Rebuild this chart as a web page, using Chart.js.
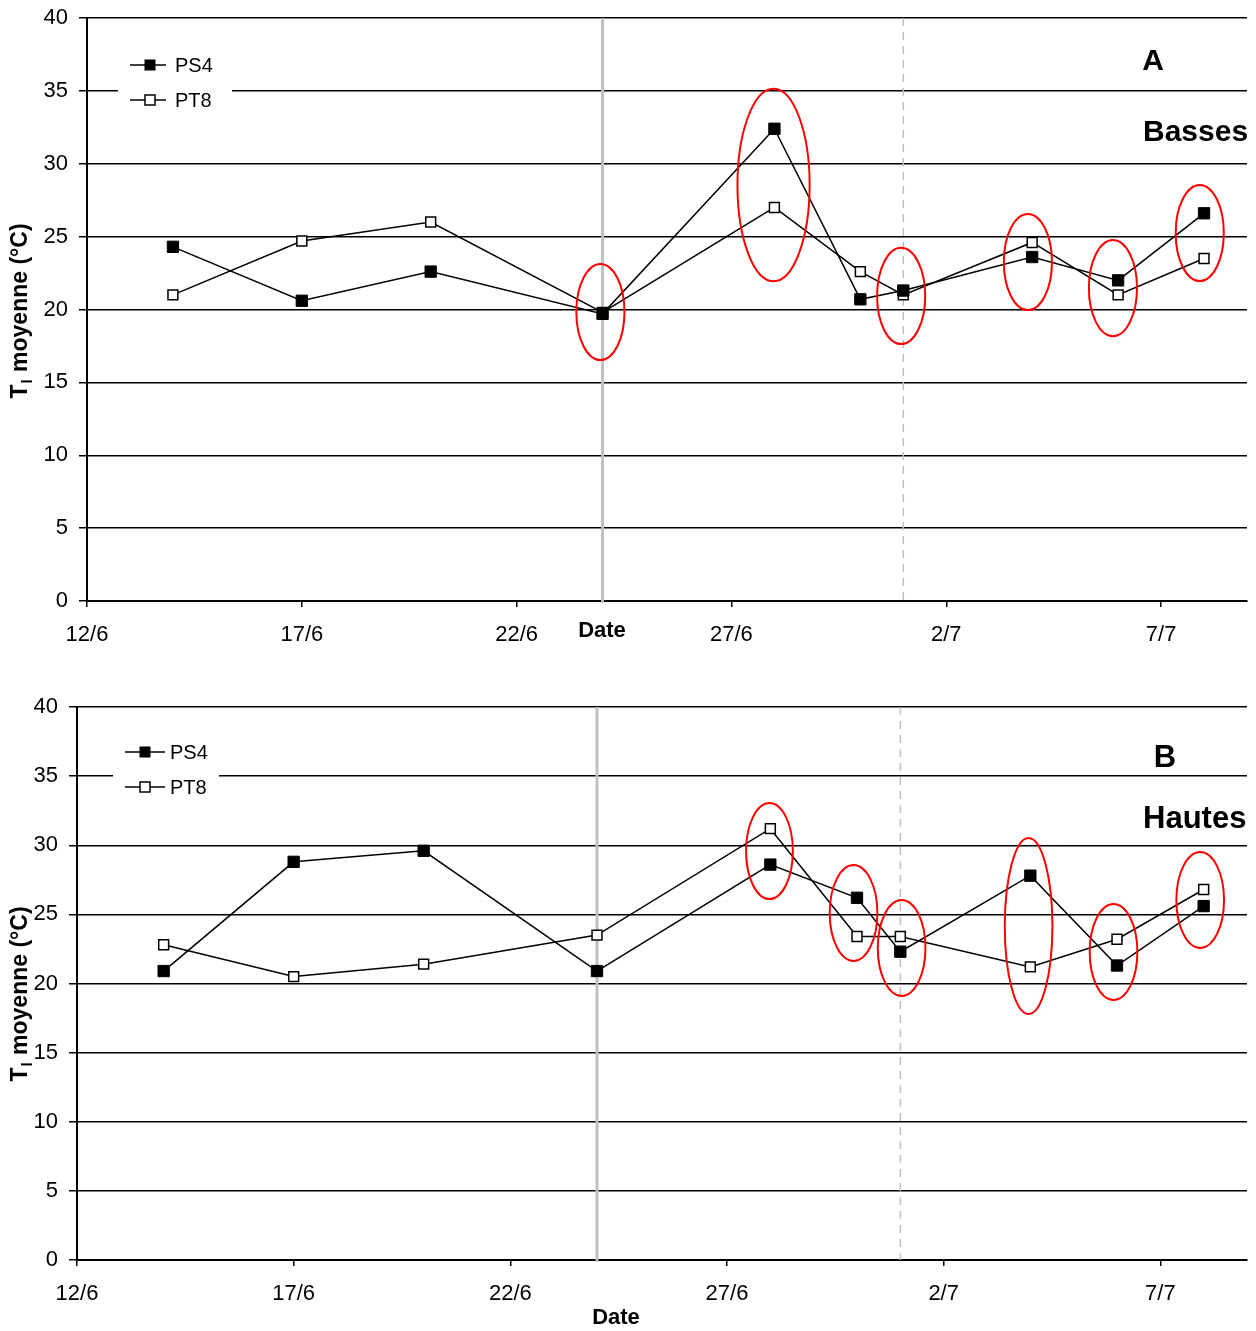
<!DOCTYPE html>
<html>
<head>
<meta charset="utf-8">
<script src="https://cdn.jsdelivr.net/npm/chart.js@4.4.1/dist/chart.umd.min.js"></script>
<style>
  body { margin: 0; background: #fff; }
  .box { position: absolute; left: 0; width: 1256px; }
</style>
</head>
<body>
<div class="box" style="top:0px;height:660px"><canvas id="chartA" width="1256" height="660"></canvas></div>
<div class="box" style="top:660px;height:671px"><canvas id="chartB" width="1256" height="671"></canvas></div>
<script>
// dates of measurement and axis ticks
var dates = ['14/6', '17/6', '20/6', '24/6', '28/6', '30/6', '1/7', '4/7', '6/7', '8/7']
var tickLabels = ['12/6', '17/6', '22/6', '27/6', '2/7', '7/7']
var yTicks = [0, 5, 10, 15, 20, 25, 30, 35, 40]

// A - Basses
var ps4Basses = [24.3, 20.6, 22.6, 19.7, 32.4, 20.7, 21.3, 23.6, 22.0, 26.6]
var pt8Basses = [21.0, 24.7, 26.0, 19.8, 27.0, 22.6, 21.0, 24.6, 21.0, 23.5]
// B - Hautes
var ps4Hautes = [20.9, 28.8, 29.6, 20.9, 28.6, 26.2, 22.3, 27.8, 21.3, 25.6]
var pt8Hautes = [22.8, 20.5, 21.4, 23.5, 31.2, 23.4, 23.4, 21.2, 23.2, 26.8]

// red circled zones (day offset from 12/6, value, half width in days, half height in °C)
var ellDayA = [11.95, 15.98, 18.95, 21.9, 23.88, 25.9]
var ellValA = [19.83, 28.54, 20.93, 23.26, 21.47, 25.25]
var ellRxA = [0.56, 0.84, 0.56, 0.56, 0.56, 0.56]
var ellRyA = [3.3, 6.6, 3.3, 3.3, 3.3, 3.3]

var ellDayB = [15.98, 17.92, 19.03, 21.96, 23.92, 25.92]
var ellValB = [29.58, 25.1, 22.57, 24.16, 22.28, 26.04]
var ellRxB = [0.54, 0.55, 0.55, 0.55, 0.55, 0.55]
var ellRyB = [3.47, 3.47, 3.47, 6.37, 3.47, 3.47]

// vertical reference lines
var solidLineDate = '24/6'
var dashedLineDate = '1/7'

function dayOf(s) {
    var p = s.split('/')
    var d = +p[0], m = +p[1]
    return m === 6 ? d - 12 : d + 18
}

function points(vals) {
    return dates.map(function(d, i) { return { x: dayOf(d), y: vals[i] } })
}

var FAM = '"Liberation Sans", Arial, sans-serif'

function makeChart(id, ps4, pt8, cfg) {
    var deco = {
        id: 'deco',
        beforeDatasetsDraw: function(chart) {
            var ctx = chart.ctx, xs = chart.scales.x, a = chart.chartArea
            ctx.save()
            var x1 = xs.getPixelForValue(dayOf(solidLineDate))
            ctx.strokeStyle = '#c0c0c0'
            ctx.lineWidth = 3
            ctx.beginPath(); ctx.moveTo(x1, a.top); ctx.lineTo(x1, a.bottom + 2); ctx.stroke()
            var x2 = xs.getPixelForValue(dayOf(dashedLineDate))
            ctx.lineWidth = 1.5
            ctx.setLineDash([8, 6])
            ctx.beginPath(); ctx.moveTo(x2, a.top); ctx.lineTo(x2, a.bottom); ctx.stroke()
            ctx.restore()
        },
        afterDraw: function(chart) {
            var ctx = chart.ctx, xs = chart.scales.x, ys = chart.scales.y
            ctx.save()
            // ellipses
            ctx.strokeStyle = '#ff0000'
            ctx.lineWidth = 2
            for (var i = 0; i < cfg.ellDay.length; i++) {
                var cx = xs.getPixelForValue(cfg.ellDay[i])
                var cy = ys.getPixelForValue(cfg.ellVal[i])
                var rx = xs.getPixelForValue(cfg.ellDay[i] + cfg.ellRx[i]) - cx
                var ry = cy - ys.getPixelForValue(cfg.ellVal[i] + cfg.ellRy[i])
                ctx.beginPath(); ctx.ellipse(cx, cy, rx, ry, 0, 0, Math.PI * 2); ctx.stroke()
            }
            // legend
            var L = cfg.legend
            ctx.fillStyle = '#fff'
            ctx.fillRect(L.x0, L.y0, L.w, L.h)
            ctx.strokeStyle = '#000'
            ctx.lineWidth = 1.5
            ctx.font = '20px ' + FAM
            ctx.textBaseline = 'middle'
            ctx.textAlign = 'left'
            var rows = [['PS4', true, L.y1], ['PT8', false, L.y2]]
            rows.forEach(function(r) {
                ctx.beginPath(); ctx.moveTo(L.lx1, r[2]); ctx.lineTo(L.lx2, r[2]); ctx.stroke()
                if (r[1]) {
                    ctx.fillStyle = '#000'
                    ctx.fillRect(L.mx - 5.5, r[2] - 5.5, 11, 11)
                } else {
                    ctx.fillStyle = '#fff'
                    ctx.fillRect(L.mx - 5, r[2] - 5, 10, 10)
                    ctx.strokeRect(L.mx - 5, r[2] - 5, 10, 10)
                }
                ctx.fillStyle = '#000'
                ctx.fillText(r[0], L.tx, r[2] + 1)
            })
            // panel labels
            ctx.font = 'bold ' + cfg.nameSize + 'px ' + FAM
            ctx.textAlign = 'center'
            ctx.fillText(cfg.letter, cfg.letterX, cfg.letterY)
            ctx.textAlign = 'left'
            ctx.fillText(cfg.name, cfg.nameX, cfg.nameY)
            // x title
            ctx.font = 'bold 22px ' + FAM
            ctx.textAlign = 'center'
            ctx.fillText('Date', cfg.dateX, cfg.dateY)
            // y title with subscript
            ctx.translate(cfg.yTitleX, cfg.yTitleY)
            ctx.rotate(-Math.PI / 2)
            var big = 'bold 23px ' + FAM
            var small = 'bold 15px ' + FAM
            ctx.font = big
            var wT = ctx.measureText('T').width
            var rest = ' moyenne (°C)'
            var wR = ctx.measureText(rest).width
            ctx.font = small
            var wl = ctx.measureText('l').width + 2
            var sx = -(wT + wl + wR) / 2
            ctx.textAlign = 'left'
            ctx.font = big
            ctx.fillText('T', sx, 0)
            ctx.font = small
            ctx.fillText('l', sx + wT + 1, 7)
            ctx.font = big
            ctx.fillText(rest, sx + wT + wl, 0)
            ctx.restore()
        }
    }

    var tickFont = { family: FAM, size: 22 }

    return new Chart(document.getElementById(id).getContext('2d'), {
        type: 'line',
        data: {
            datasets: [{
                label: 'PS4',
                data: points(ps4),
                borderColor: '#000',
                borderWidth: 1.5,
                backgroundColor: '#000',
                pointStyle: 'rect',
                pointRadius: 8,
                pointBorderWidth: 1,
                pointBorderColor: '#000',
                pointBackgroundColor: '#000',
                tension: 0
            }, {
                label: 'PT8',
                data: points(pt8),
                borderColor: '#000',
                borderWidth: 1.5,
                pointStyle: 'rect',
                pointRadius: 7,
                pointBorderWidth: 1.5,
                pointBorderColor: '#000',
                pointBackgroundColor: '#fff',
                tension: 0
            }]
        },
        options: {
            responsive: false,
            animation: false,
            events: [],
            layout: { padding: { top: cfg.padTop, right: 9, left: 0, bottom: 0 } },
            plugins: { legend: { display: false }, tooltip: { enabled: false } },
            scales: {
                x: {
                    type: 'linear',
                    min: 0,
                    max: 27,
                    afterBuildTicks: function(scale) {
                        scale.ticks = tickLabels.map(function(l) { return { value: dayOf(l) } })
                    },
                    afterFit: function(scale) { scale.height = cfg.xHeight },
                    ticks: {
                        color: '#000',
                        font: tickFont,
                        padding: 15,
                        maxRotation: 0,
                        autoSkip: false,
                        callback: function(v) {
                            for (var i = 0; i < tickLabels.length; i++) {
                                if (dayOf(tickLabels[i]) === v) return tickLabels[i]
                            }
                            return ''
                        }
                    },
                    grid: { drawOnChartArea: false, drawTicks: true, tickLength: 6, color: '#000', lineWidth: 1.5 },
                    border: { color: '#000', width: 2 }
                },
                y: {
                    min: 0,
                    max: 40,
                    afterBuildTicks: function(scale) {
                        scale.ticks = yTicks.map(function(v) { return { value: v } })
                    },
                    afterFit: function(scale) {
                        scale.width = cfg.yWidth
                        scale.paddingTop = 0
                        scale.paddingBottom = 0
                    },
                    ticks: { color: '#000', font: tickFont, padding: 11 },
                    grid: { color: '#000', lineWidth: 1.5, tickLength: 8 },
                    border: { color: '#000', width: 2 }
                }
            }
        },
        plugins: [deco]
    })
}

makeChart('chartA', ps4Basses, pt8Basses, {
    padTop: 18, xHeight: 59, yWidth: 87,
    ellDay: ellDayA, ellVal: ellValA, ellRx: ellRxA, ellRy: ellRyA,
    legend: { x0: 118, y0: 46, w: 114, h: 72, y1: 65, y2: 100, lx1: 130, lx2: 166, mx: 150, tx: 175 },
    letter: 'A', letterX: 1153, letterY: 62, name: 'Basses', nameX: 1143, nameY: 133, nameSize: 30,
    dateX: 602, dateY: 631, yTitleX: 21, yTitleY: 311
})

makeChart('chartB', ps4Hautes, pt8Hautes, {
    padTop: 47, xHeight: 71, yWidth: 77,
    ellDay: ellDayB, ellVal: ellValB, ellRx: ellRxB, ellRy: ellRyB,
    legend: { x0: 113, y0: 75, w: 106, h: 72, y1: 92, y2: 127, lx1: 125, lx2: 165, mx: 145, tx: 170 },
    letter: 'B', letterX: 1165, letterY: 98, name: 'Hautes', nameX: 1143, nameY: 159, nameSize: 31,
    dateX: 616, dateY: 658, yTitleX: 21, yTitleY: 334
})
</script>
</body>
</html>
